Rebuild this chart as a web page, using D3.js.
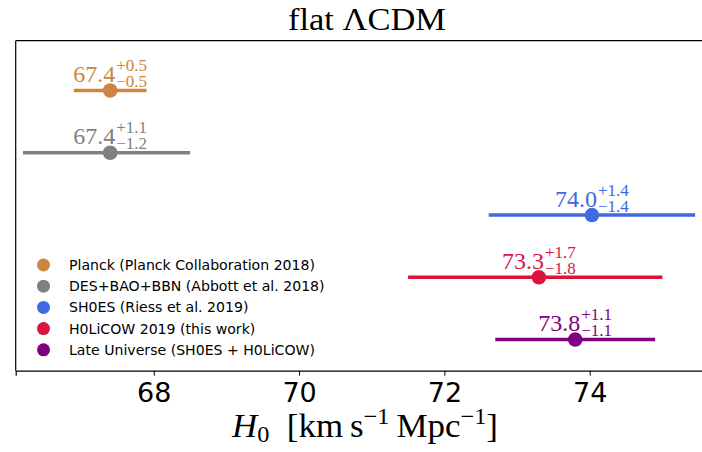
<!DOCTYPE html>
<html><head><meta charset="utf-8">
<script src="https://cdn.jsdelivr.net/npm/d3@7"></script>
<style>body{margin:0;background:#fff}svg{display:block}</style>
</head><body>
<script>
const names = ["Planck (Planck Collaboration 2018)","DES+BAO+BBN (Abbott et al. 2018)","SH0ES (Riess et al. 2019)","H0LiCOW 2019 (this work)","Late Universe (SH0ES + H0LiCOW)"];
const centers = [67.4, 67.4, 74.03, 73.3, 73.8];
const errPlus = [0.5, 1.1, 1.42, 1.7, 1.1];
const errMinus = [0.5, 1.2, 1.42, 1.8, 1.1];
const rows = [5, 4, 3, 2, 1];
const colors = ["#CD853F","#808080","#4169E1","#DC143C","#800080"];
const xTicks = [68, 70, 72, 74];

const W = 702, H = 452;
const svg = d3.select("body").append("svg").attr("width", W).attr("height", H);
const mLeft = 15.7, mRight = 706, mTop = 40.7, mBottom = 370.7;
const x = d3.scaleLinear().domain([66.1, 75.6]).range([mLeft, mRight]);
const y = d3.scaleLinear().domain([0.5, 5.8]).range([mBottom, mTop]);
const serif = "'Liberation Serif', 'DejaVu Serif', serif";
const sans = "'DejaVu Sans', sans-serif";

// spines
svg.append("line").attr("x1", mLeft).attr("x2", mLeft).attr("y1", mTop).attr("y2", mBottom).attr("stroke", "#000").attr("stroke-width", 1.2);
svg.append("line").attr("x1", mLeft).attr("x2", mRight).attr("y1", mTop).attr("y2", mTop).attr("stroke", "#000").attr("stroke-width", 1.2);

const xAxis = svg.append("g").attr("transform", `translate(0,${mBottom})`)
  .call(d3.axisBottom(x).tickValues(xTicks).tickSize(5).tickPadding(7).tickFormat(d3.format("d")));
xAxis.select(".domain").attr("stroke-width", 1.2);
xAxis.selectAll("text").attr("font-family", sans).attr("font-size", 27).attr("fill", "#000");

// error bars
const g = svg.append("g");
centers.forEach((c, i) => {
  const yy = y(rows[i]);
  g.append("line").attr("x1", x(c - errMinus[i])).attr("x2", x(c + errPlus[i]))
    .attr("y1", yy).attr("y2", yy).attr("stroke", colors[i]).attr("stroke-width", 3.5);
  g.append("circle").attr("cx", x(c)).attr("cy", yy).attr("r", 7.3).attr("fill", colors[i]);
  const lg = g.append("g");
  const base = yy - 8.5;
  const main = lg.append("text").attr("y", base).attr("font-family", serif).attr("font-size", 24)
    .attr("fill", colors[i]).text(c.toFixed(1));
  const sup = lg.append("text").attr("y", base - 11).attr("font-family", serif).attr("font-size", 17)
    .attr("fill", colors[i]).text("+" + errPlus[i].toFixed(1));
  const sub = lg.append("text").attr("y", base + 5).attr("font-family", serif).attr("font-size", 17)
    .attr("fill", colors[i]).text("\u2212" + errMinus[i].toFixed(1));
  const wm = main.node().getComputedTextLength();
  const ws = Math.max(sup.node().getComputedTextLength(), sub.node().getComputedTextLength());
  const gap = 1;
  const total = wm + gap + ws;
  const x0 = x(c) - total / 2;
  main.attr("x", x0);
  sup.attr("x", x0 + wm + gap);
  sub.attr("x", x0 + wm + gap);
});

// legend
const leg = svg.append("g");
names.forEach((n, i) => {
  const ly = 265 + i * 21.2;
  leg.append("circle").attr("cx", 43.5).attr("cy", ly).attr("r", 6.5).attr("fill", colors[i]);
  leg.append("text").attr("x", 69).attr("y", ly + 5).attr("font-family", sans).attr("font-size", 14.1)
    .attr("fill", "#000").text(n);
});

// title
svg.append("text").attr("x", 367).attr("y", 30).attr("text-anchor", "middle")
  .attr("font-family", serif).attr("font-size", 32).attr("fill", "#000")
  .attr("textLength", 158).attr("lengthAdjust", "spacingAndGlyphs").text("flat \u039BCDM");

// x label
const xl = svg.append("text").attr("x", 365).attr("y", 437).attr("text-anchor", "middle")
  .attr("font-family", serif).attr("font-size", 33).attr("fill", "#000")
  .attr("textLength", 266).attr("lengthAdjust", "spacingAndGlyphs");
xl.append("tspan").attr("font-style", "italic").text("H");
xl.append("tspan").attr("font-size", 23).attr("dy", 5).text("0");
xl.append("tspan").attr("dy", -5).text("\u2002[km\u2009s");
xl.append("tspan").attr("font-size", 23).attr("dy", -13).text("\u22121");
xl.append("tspan").attr("dy", 13).text("\u2009Mpc");
xl.append("tspan").attr("font-size", 23).attr("dy", -13).text("\u22121");
xl.append("tspan").attr("dy", 13).text("]");
</script>
</body></html>
